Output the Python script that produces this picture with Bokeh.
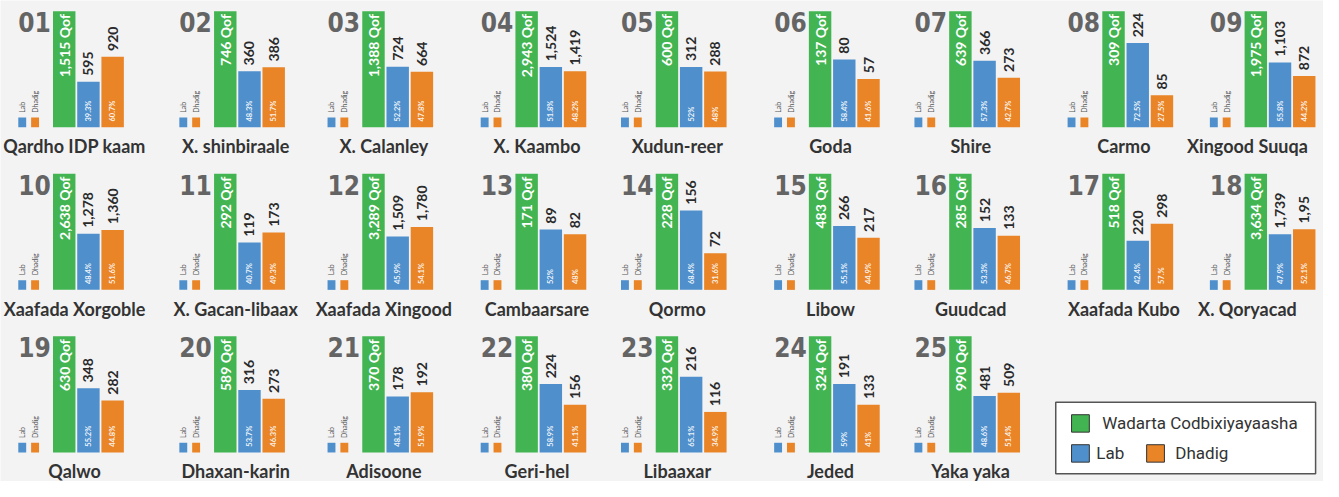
import math
from bokeh.plotting import figure
from bokeh.models import Range1d, ColumnDataSource
from bokeh.core.properties import value
from bokeh.embed import file_html
from bokeh.resources import INLINE

# ---------------- data ----------------
places = ["Qardho IDP kaam", "X. shinbiraale", "X. Calanley", "X. Kaambo", "Xudun-reer",
          "Goda", "Shire", "Carmo", "Xingood Suuqa",
          "Xaafada Xorgoble", "X. Gacan-libaax", "Xaafada Xingood", "Cambaarsare", "Qormo",
          "Libow", "Guudcad", "Xaafada Kubo", "X. Qoryacad",
          "Qalwo", "Dhaxan-karin", "Adisoone", "Geri-hel", "Libaaxar", "Jeded", "Yaka yaka"]
numbers = ["01", "02", "03", "04", "05", "06", "07", "08", "09", "10", "11", "12", "13",
           "14", "15", "16", "17", "18", "19", "20", "21", "22", "23", "24", "25"]
totals = ["1,515", "746", "1,388", "2,943", "600", "137", "639", "309", "1,975",
          "2,638", "292", "3,289", "171", "228", "483", "285", "518", "3,634",
          "630", "589", "370", "380", "332", "324", "990"]
lab = ["595", "360", "724", "1,524", "312", "80", "366", "224", "1,103",
       "1,278", "119", "1,509", "89", "156", "266", "152", "220", "1,739",
       "348", "316", "178", "224", "216", "191", "481"]
dhadig = ["920", "386", "664", "1,419", "288", "57", "273", "85", "872",
          "1,360", "173", "1,780", "82", "72", "217", "133", "298", "1,95",
          "282", "273", "192", "156", "116", "133", "509"]
lab_pct = ["39.3%", "48.3%", "52.2%", "51.8%", "52%", "58.4%", "57.3%", "72.5%", "55.8%",
           "48.4%", "40.7%", "45.9%", "52%", "68.4%", "55.1%", "53.3%", "42.4%", "47.9%",
           "55.2%", "53.7%", "48.1%", "58.9%", "65.1%", "59%", "48.6%"]
dhadig_pct = ["60.7%", "51.7%", "47.8%", "48.2%", "48%", "41.6%", "42.7%", "27.5%", "44.2%",
              "51.6%", "49.3%", "54.1%", "48%", "31.6%", "44.9%", "46.7%", "57.%", "52.1%",
              "44.8%", "46.3%", "51.9%", "41.1%", "34.9%", "41%", "51.4%"]
legend_labels = ["Wadarta Codbixiyayaasha", "Lab", "Dhadig"]

# ---------------- layout / style ----------------
GREEN, BLUE, ORANGE = "#42b451", "#4f90cc", "#e98427"
BG = "#f3f3f4"
COL_LEFT = [53, 216, 366, 521, 663, 818, 960, 1115, 1259]
ROW_BASE = [131, 299, 467]
BAR_H = 120
BW = 22.7
PER_ROW = 9
TITLE_MAX_X = 1262

p = figure(width=1323, height=481, x_range=Range1d(0, 1339), y_range=Range1d(497, 0),
           output_backend="svg", toolbar_location=None, x_axis_type=None, y_axis_type=None,
           min_border=0, background_fill_color=BG, border_fill_color=BG,
           outline_line_color=None)
p.grid.visible = False

gx = [COL_LEFT[i % PER_ROW] for i in range(len(places))]
base = [ROW_BASE[i // PER_ROW] for i in range(len(places))]
lab_f = [float(s.rstrip("%")) / 100 for s in lab_pct]
dh_f = [float(s.rstrip("%")) / 100 for s in dhadig_pct]

src = ColumnDataSource(dict(
    gx=gx, base=base,
    g_x=[g + 11.5 for g in gx], b_x=[g + 36 for g in gx], o_x=[g + 60.5 for g in gx],
    g_top=[b - BAR_H for b in base],
    b_top=[b - BAR_H * f for b, f in zip(base, lab_f)],
    o_top=[b - BAR_H * f for b, f in zip(base, dh_f)],
    b_lbl_y=[b - BAR_H * f - 6 for b, f in zip(base, lab_f)],
    o_lbl_y=[b - BAR_H * f - 6 for b, f in zip(base, dh_f)],
    g_lbl_y=[b - BAR_H + 3 for b in base],
    pct_y=[b - 6 for b in base],
    num_x=[g - 35 for g in gx], num_y=[b - 108.5 for b in base],
    lgb_l=[g - 35 for g in gx], lgb_r=[g - 27 for g in gx],
    lgo_l=[g - 22 for g in gx], lgo_r=[g - 14 for g in gx],
    lg_top=[b - 10 for b in base],
    lgb_tx=[g - 31 for g in gx], lgo_tx=[g - 18 for g in gx], lg_ty=[b - 15 for b in base],
    title_x=[min(g + 22, TITLE_MAX_X) for g in gx], title_y=[b + 19.5 for b in base],
    place=places, num=numbers, total=[t + " Qof" for t in totals],
    lab=lab, dhadig=dhadig, lab_pct=lab_pct, dhadig_pct=dhadig_pct,
    lab_name=[legend_labels[1]] * len(places), dh_name=[legend_labels[2]] * len(places),
))

# bars
p.vbar(x="g_x", width=BW, top="g_top", bottom="base", source=src, fill_color=GREEN, line_color=None)
p.vbar(x="b_x", width=BW, top="b_top", bottom="base", source=src, fill_color=BLUE, line_color=None)
p.vbar(x="o_x", width=BW, top="o_top", bottom="base", source=src, fill_color=ORANGE, line_color=None)

# mini legend squares
p.quad(left="lgb_l", right="lgb_r", top="lg_top", bottom="base", source=src, fill_color=BLUE, line_color=None)
p.quad(left="lgo_l", right="lgo_r", top="lg_top", bottom="base", source=src, fill_color=ORANGE, line_color=None)

ROT = math.pi / 2
LATO = value("Lato")

p.text(x="lgb_tx", y="lg_ty", text="lab_name", source=src, angle=ROT, text_align="left",
       text_baseline="middle", text_font=LATO, text_font_size="7px", text_color="#555555")
p.text(x="lgo_tx", y="lg_ty", text="dh_name", source=src, angle=ROT, text_align="left",
       text_baseline="middle", text_font=LATO, text_font_size="7px", text_color="#555555")

# panel numbers
p.text(x="num_x", y="num_y", text="num", source=src, text_align="left", text_baseline="middle",
       text_font=value("DejaVu Sans Condensed, Roboto Condensed, Roboto"), text_font_style="bold",
       text_font_size="26px", text_color="#646464")

# green totals
p.text(x="g_x", y="g_lbl_y", text="total", source=src, angle=ROT, text_align="right",
       text_baseline="middle", text_font=LATO, text_font_style="bold", text_font_size="14px",
       text_color="white")

# values above bars
for xc, yc, col in [("b_x", "b_lbl_y", "lab"), ("o_x", "o_lbl_y", "dhadig")]:
    p.text(x=xc, y=yc, text=col, source=src, angle=ROT, text_align="left", text_baseline="middle",
           text_font=LATO, text_font_style="bold", text_font_size="14px", text_color="#2a2a2a")

# percentages inside bars
for xc, col in [("b_x", "lab_pct"), ("o_x", "dhadig_pct")]:
    p.text(x=xc, y="pct_y", text=col, source=src, angle=ROT, text_align="left", text_baseline="middle",
           text_font=LATO, text_font_style="bold", text_font_size="7.5px", text_color="white",
           text_alpha=0.9)

# titles
p.text(x="title_x", y="title_y", text="place", source=src, text_align="center",
       text_baseline="middle", text_font=LATO, text_font_style="bold", text_font_size="18px",
       text_color="#333333")

# overall legend
p.quad(left=[1068], right=[1331], top=[415], bottom=[489], fill_color="white",
       line_color="#555555", line_width=1.5)
p.quad(left=[1084, 1084, 1160], right=[1102, 1102, 1178], top=[428, 459, 459], bottom=[446, 477, 477],
       fill_color=[GREEN, BLUE, ORANGE], line_color="#333333", line_width=1)
p.text(x=[1115, 1109, 1189], y=[437, 468, 468], text=legend_labels, text_align="left",
       text_baseline="middle", text_font=value("Roboto"), text_font_size="17px", text_color="#333333")

open("out.html", "w").write(file_html(p, INLINE))
